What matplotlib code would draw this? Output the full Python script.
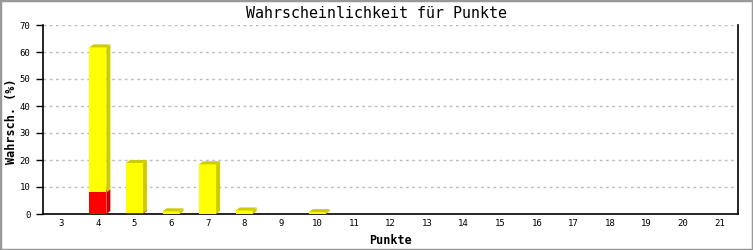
import matplotlib
matplotlib.use("Agg")
import matplotlib.pyplot as plt
from matplotlib.patches import Polygon, Rectangle

# Data
punkte = list(range(3, 22))
rot =  [0, 8.0, 0.3, 0, 0, 0, 0, 0, 0, 0, 0, 0, 0, 0, 0, 0, 0, 0, 0]
gelb = [0, 53.7, 18.6, 1.0, 18.4, 1.3, 0, 0.7, 0, 0, 0, 0, 0, 0, 0, 0, 0, 0, 0]
yticks = [0, 10, 20, 30, 40, 50, 60, 70]

W, H = 753, 250
fig = plt.figure(figsize=(W / 100, H / 100), dpi=100)
ax = fig.add_axes([43 / W, 36 / H, (738 - 43) / W, (214 - 25) / H])

mono = ["DejaVu Sans Mono"]
ax.set_xlim(2.5, 21.5)
ax.set_ylim(0, 70)

# pixel -> data conversions for 3D depth
px_x = (21.5 - 2.5) / (738 - 43)
px_y = 70 / (214 - 25)
dx, dy = 4 * px_x, 3 * px_y
bw = 17 * px_x

series = [(rot, "#ff0000", "#cc0000"), (gelb, "#ffff00", "#cccc00")]
for i, p in enumerate(punkte):
    total = sum(s[0][i] for s in series)
    if total <= 0:
        continue
    x0, x1 = p - bw / 2, p + bw / 2
    base = 0.0
    for vals, front, dark in series:
        v = vals[i]
        if v <= 0:
            continue
        top = base + v
        ax.add_patch(Polygon([(x0, base), (x1, base), (x1, top), (x0, top)],
                             closed=True, facecolor=front, edgecolor="none", zorder=3))
        ax.add_patch(Polygon([(x1, base), (x1 + dx, base + dy), (x1 + dx, top + dy), (x1, top)],
                             closed=True, facecolor=dark, edgecolor="none", zorder=3))
        ax.add_patch(Polygon([(x0, top), (x1, top), (x1 + dx, top + dy), (x0 + dx, top + dy)],
                             closed=True, facecolor=dark, edgecolor="none", zorder=3))
        base = top

# grid
for t in yticks[1:]:
    ax.axhline(t, color="#bdbdbd", lw=1, linestyle=(0, (2, 2.5)), zorder=1)

ax.set_xticks(punkte)
ax.set_xticklabels([str(p) for p in punkte], fontsize=6.5, family=mono)
ax.set_yticks(yticks)
ax.set_yticklabels([str(t) for t in yticks], fontsize=6.5, family=mono)
ax.tick_params(axis="x", length=0, pad=3.5)
ax.tick_params(axis="y", length=5, width=1, pad=4, direction="out")

ax.spines["top"].set_visible(False)
for s in ["left", "right", "bottom"]:
    ax.spines[s].set_linewidth(1.2)
    ax.spines[s].set_color("black")

fig.text(376 / W, 1 - 14 / H, "Wahrscheinlichkeit für Punkte", ha="center", va="center",
         fontsize=10.8, family=mono)
fig.text(390 / W, 1 - 240 / H, "Punkte", ha="center", va="center",
         fontsize=8.5, family=mono, fontweight="bold")
fig.text(12 / W, 1 - 121 / H, "Wahrsch. (%)", ha="center", va="center", rotation=90,
         fontsize=8.5, family=mono, fontweight="bold")

fig.patches.append(Rectangle((0, 0), 1, 1, transform=fig.transFigure, fill=False,
                             edgecolor="#999999", lw=2.5, zorder=10))

fig.savefig("out.png", dpi=100)
